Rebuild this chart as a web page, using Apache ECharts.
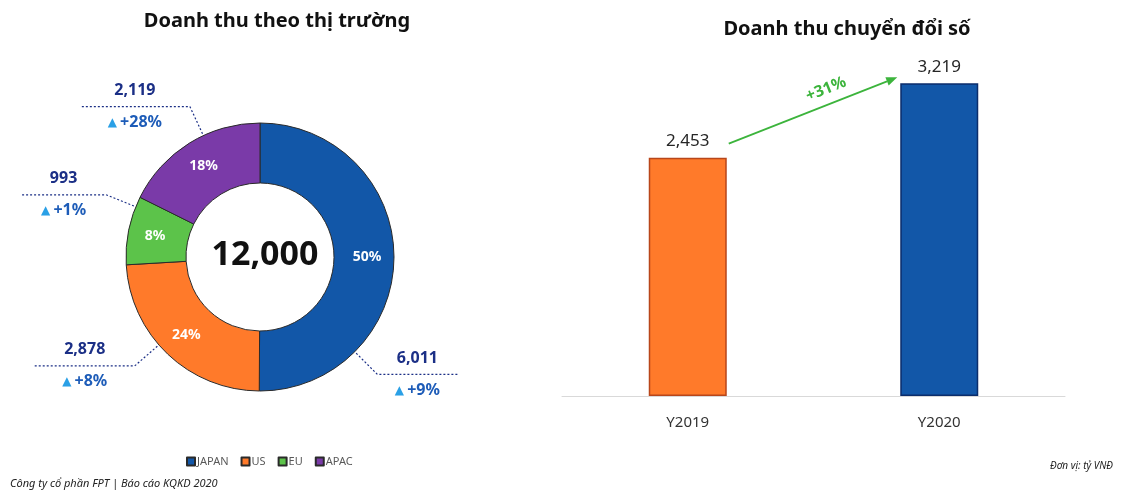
<!DOCTYPE html>
<html>
<head>
<meta charset="utf-8">
<script src="https://cdn.jsdelivr.net/npm/echarts@6/dist/echarts.min.js"></script>
<style>
  html, body { margin: 0; padding: 0; background: #fff; }
  #chart { width: 1123px; height: 500px; }
</style>
</head>
<body>
<div id="chart"></div>
<script>
// revenue by market
const markets = ['JAPAN', 'US', 'EU', 'APAC'];
const marketRevenue = [6011, 2878, 993, 2119];
const marketGrowth = ['+9%', '+8%', '+1%', '+28%'];
const marketTotal = '12,000';

// digital transformation revenue
const years = ['Y2019', 'Y2020'];
const digitalRevenue = [2453, 3219];
const digitalGrowth = '+31%';

// styling only
const marketColors = ['#1257a8', '#ff7a2a', '#5cc34a', '#7a3aa8'];
const leaderAngles = [135, 229, 292, 335];   // degrees clockwise from top
const leaderLengths = [80, 100, 85, 110];
const pieCenter = [260, 257];
const barColors = ['#ff7a2a', '#1257a8'];
const barBorders = ['#b8461a', '#0b2d6b'];
const barW = 78;

const fmt = (v) => v.toLocaleString('en-US');
const font = "'Noto Sans', 'DejaVu Sans', sans-serif";

const chart = echarts.init(document.getElementById('chart'));

const pieData = markets.map((name, i) => ({
    name: name,
    value: marketRevenue[i],
    itemStyle: { color: marketColors[i] }
}));

chart.setOption({
    animation: false,
    textStyle: { fontFamily: font },
    title: [
        {
            text: 'Doanh thu theo thị trường',
            left: 272, top: 6, textAlign: 'center',
            textStyle: { fontSize: 20, fontWeight: 'bold', color: '#111' }
        },
        {
            text: 'Doanh thu chuyển đổi số',
            left: 842, top: 14, textAlign: 'center',
            textStyle: { fontSize: 20, fontWeight: 'bold', color: '#111' }
        },
        {
            text: marketTotal,
            left: pieCenter[0], top: pieCenter[1] - 24, textAlign: 'center',
            textStyle: { fontSize: 34, fontWeight: 'bold', color: '#111' }
        }
    ],
    legend: {
        data: markets,
        left: 181, top: 451,
        icon: 'rect', itemWidth: 8, itemHeight: 8, itemGap: 12,
        textStyle: { fontSize: 11, color: '#595959', padding: [0, 0, 0, -3] }
    },
    grid: { left: 562, right: 58, top: 56, bottom: 104 },
    xAxis: {
        type: 'category',
        data: years,
        axisLine: { lineStyle: { color: '#d9d9d9', width: 1 } },
        axisTick: { show: false },
        axisLabel: { fontSize: 15, color: '#333', margin: 19 }
    },
    yAxis: { type: 'value', min: 0, max: 3500, show: false, splitLine: { show: false } },
    series: [
        {
            type: 'pie',
            center: pieCenter,
            radius: [74, 134],
            startAngle: 90,
            legendHoverLink: false,
            itemStyle: { borderColor: '#2a2a2a', borderWidth: 1 },
            label: {
                position: 'inside',
                formatter: (p) => Math.round(p.percent) + '%',
                color: '#fff', fontSize: 14, fontWeight: 'bold'
            },
            labelLine: { show: false },
            data: pieData
        },
        {
            type: 'pie',
            center: pieCenter,
            radius: [74, 134],
            startAngle: 90,
            silent: true,
            itemStyle: { color: 'transparent', borderWidth: 0 },
            label: {
                position: 'outside',
                overflow: 'none',
                edgeDistance: 0,
                bleedMargin: 0,
                formatter: (p) => '{v|' + fmt(p.value) + '}\n{g|▲} {p|' + marketGrowth[p.dataIndex] + '}',
                rich: {
                    v: { fontSize: 16, fontWeight: 'bold', color: '#1b2f86', lineHeight: 32 },
                    g: { fontSize: 12, color: '#2aa0e6', lineHeight: 32 },
                    p: { fontSize: 16, fontWeight: 'bold', color: '#1d5cb8', lineHeight: 32 }
                }
            },
            labelLine: {
                show: true,
                length: 20, length2: 60,
                lineStyle: { color: '#1b2f86', width: 1.2, type: [2, 2] }
            },
            labelLayout: function (params) {
                const i = params.dataIndex;
                const a = leaderAngles[i] * Math.PI / 180;
                const sx = Math.sin(a), sy = -Math.cos(a);
                const p0 = [pieCenter[0] + sx * 136, pieCenter[1] + sy * 136];
                const p1 = [pieCenter[0] + sx * 166, pieCenter[1] + sy * 166];
                const dir = sx > 0 ? 1 : -1;
                const p2 = [p1[0] + dir * leaderLengths[i], p1[1]];
                return {
                    x: (p1[0] + p2[0]) / 2,
                    y: p1[1],
                    align: 'center',
                    verticalAlign: 'middle',
                    width: 120,
                    labelLinePoints: [p0, p1, p2]
                };
            },
            data: pieData.map((d) => ({ name: d.name, value: d.value }))
        },
        {
            type: 'bar',
            barWidth: barW,
            data: digitalRevenue.map((v, i) => ({
                value: v,
                itemStyle: { color: barColors[i], borderColor: barBorders[i], borderWidth: 1.5 }
            })),
            label: {
                show: true, position: 'top', distance: 8,
                formatter: (p) => fmt(p.value),
                fontSize: 17, color: '#262626'
            }
        }
    ]
});

// growth arrow between the two bars
const b0 = chart.convertToPixel({ gridIndex: 0 }, [0, digitalRevenue[0]]);
const b1 = chart.convertToPixel({ gridIndex: 0 }, [1, digitalRevenue[1]]);
const s = [b0[0] + barW / 2 + 2, b0[1] - 14];
const e = [b1[0] - barW / 2 - 3, b1[1] - 6];
const dx = e[0] - s[0], dy = e[1] - s[1];
const len = Math.sqrt(dx * dx + dy * dy);
const u = [dx / len, dy / len];
const n = [u[1], -u[0]];  // perpendicular, pointing up
const head = 11, hw = 4.5;
const mid = [(s[0] + e[0]) / 2, (s[1] + e[1]) / 2];
const green = '#3cb43c';

chart.setOption({
    graphic: [
        {
            type: 'line',
            shape: { x1: s[0], y1: s[1], x2: e[0] - u[0] * head, y2: e[1] - u[1] * head },
            style: { stroke: green, lineWidth: 1.8 }
        },
        {
            type: 'polygon',
            shape: {
                points: [
                    e,
                    [e[0] - u[0] * head + n[0] * hw, e[1] - u[1] * head + n[1] * hw],
                    [e[0] - u[0] * head - n[0] * hw, e[1] - u[1] * head - n[1] * hw]
                ]
            },
            style: { fill: green }
        },
        {
            type: 'text',
            x: mid[0] + u[0] * 20 + n[0] * 15,
            y: mid[1] + u[1] * 20 + n[1] * 15,
            rotation: Math.atan2(-dy, dx),
            style: {
                text: digitalGrowth, fill: green, font: 'bold 16px ' + font,
                align: 'center', verticalAlign: 'middle'
            }
        },
        {
            type: 'text', left: 10, top: 478,
            style: { text: 'Công ty cổ phần FPT | Báo cáo KQKD 2020', fill: '#222', font: 'italic 11px ' + font }
        },
        {
            type: 'text', right: 10, top: 461,
            style: { text: 'Đơn vị: tỷ VNĐ', fill: '#222', font: 'italic 10px ' + font }
        }
    ]
});
</script>
</body>
</html>
